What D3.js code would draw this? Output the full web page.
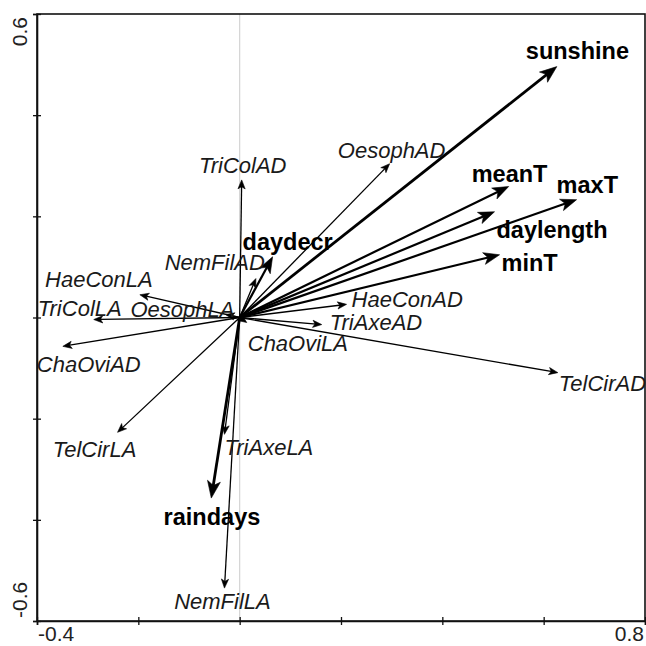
<!DOCTYPE html>
<html>
<head>
<meta charset="utf-8">
<script src="https://cdn.jsdelivr.net/npm/d3@7"></script>
<style>
  html, body { margin: 0; padding: 0; background: #fff; }
  svg { display: block; }
</style>
</head>
<body>
<svg id="chart" width="646" height="646"></svg>
<script>
// ---- data ----
const envNames = ["sunshine", "meanT", "maxT", "daylength", "minT", "daydecr", "raindays"];
const envX = [0.626, 0.531, 0.665, 0.503, 0.513, 0.065, -0.056];
const envY = [0.496, 0.259, 0.233, 0.209, 0.124, 0.120, -0.357];

const spNames = ["TriColAD", "OesophAD", "NemFilAD", "HaeConLA", "TriColLA", "OesophLA", "ChaOviAD",
                 "TelCirLA", "TriAxeLA", "NemFilLA", "HaeConAD", "TriAxeAD", "TelCirAD", "ChaOviLA"];
const spX = [0.004, 0.296, 0.032, -0.197, -0.288, -0.028, -0.349, -0.241, -0.030, -0.030, 0.211, 0.162, 0.628, 0.014];
const spY = [0.272, 0.304, 0.077, 0.045, -0.004, 0.006, -0.057, -0.227, -0.231, -0.535, 0.026, -0.014, -0.109, -0.010];

const xTicks = [-0.4, -0.2, 0, 0.2, 0.4, 0.6, 0.8];
const yTicks = [-0.6, -0.4, -0.2, 0, 0.2, 0.4, 0.6];
const xTickLabels = ["-0.4", "0.8"];
const yTickLabels = ["-0.6", "0.6"];

// ---- layout (label offsets from arrow tips, px) ----
const labelPos = {
  sunshine: [-31, -8, "start"], meanT: [-37, -4, "start"], maxT: [-20, -7, "start"],
  daylength: [2, 26, "start"], minT: [2, 16, "start"], daydecr: [-30, -7, "start"],
  raindays: [49, 27, "end"],
  TriColAD: [1, -7, "middle"], OesophAD: [2, -6, "middle"], NemFilAD: [9, -9, "end"],
  HaeConLA: [-41, -8, "middle"], TriColLA: [-56, -4, "start"], OesophLA: [9, 3, "end"],
  ChaOviAD: [-26, 26, "start"], TelCirLA: [-23, 25, "middle"], TriAxeLA: [0, 21, "start"],
  NemFilLA: [-2, 21, "middle"], HaeConAD: [5, 3, "start"], TriAxeAD: [8, 5, "start"],
  TelCirAD: [1, 18, "start"], ChaOviLA: [1, 28, "start"]
};

const svg = d3.select("#chart");
const x = d3.scaleLinear().domain([-0.4, 0.8]).range([37, 645]);
const y = d3.scaleLinear().domain([-0.6, 0.6]).range([621, 14]);

// zero line
svg.append("line")
  .attr("x1", x(0)).attr("x2", x(0)).attr("y1", y(0.6)).attr("y2", y(-0.6))
  .attr("stroke", "#d4d4d4").attr("stroke-width", 1.2);

// frame
svg.append("rect")
  .attr("x", x(-0.4)).attr("y", y(0.6))
  .attr("width", x(0.8) - x(-0.4)).attr("height", y(-0.6) - y(0.6))
  .attr("fill", "none").attr("stroke", "#111").attr("stroke-width", 1.6);

// axes
const gx = svg.append("g").attr("transform", `translate(0,${y(-0.6)})`)
  .call(d3.axisBottom(x).tickValues(xTicks).tickSize(4).tickFormat(""));
gx.select(".domain").attr("stroke", "#111").attr("stroke-width", 1.6);
gx.selectAll(".tick line").attr("y1", -4).attr("y2", 4).attr("stroke", "#111").attr("stroke-width", 1.3);

const gy = svg.append("g").attr("transform", `translate(${x(-0.4)},0)`)
  .call(d3.axisLeft(y).tickValues(yTicks).tickSize(4).tickFormat(""));
gy.select(".domain").attr("stroke", "#111").attr("stroke-width", 1.6);
gy.selectAll(".tick line").attr("x1", -4).attr("x2", 4).attr("stroke", "#111").attr("stroke-width", 1.3);

// tick labels
const tickFont = "'Liberation Sans', Arial, sans-serif";
svg.append("text").text(xTickLabels[0]).attr("x", x(-0.4) + 1).attr("y", 641)
  .attr("text-anchor", "start").attr("font-family", tickFont).attr("font-size", 21).attr("fill", "#222");
svg.append("text").text(xTickLabels[1]).attr("x", x(0.8) - 1).attr("y", 641)
  .attr("text-anchor", "end").attr("font-family", tickFont).attr("font-size", 21).attr("fill", "#222");
svg.append("text").text(yTickLabels[0])
  .attr("transform", `translate(27,${y(-0.6) - 3}) rotate(-90)`)
  .attr("text-anchor", "start").attr("font-family", tickFont).attr("font-size", 21).attr("fill", "#222");
svg.append("text").text(yTickLabels[1])
  .attr("transform", `translate(27,${y(0.6) + 3}) rotate(-90)`)
  .attr("text-anchor", "end").attr("font-family", tickFont).attr("font-size", 21).attr("fill", "#222");

// arrows
function arrow(g, vx, vy, opts) {
  const x0 = x(0), y0 = y(0), x1 = x(vx), y1 = y(vy);
  const dx = x1 - x0, dy = y1 - y0, len = Math.hypot(dx, dy) || 1;
  const ux = dx / len, uy = dy / len, nx = -uy, ny = ux;
  const L = Math.min(opts.L, len), W = opts.W;
  const bx = x1 - ux * L, by = y1 - uy * L;
  g.append("line").attr("x1", x0).attr("y1", y0)
    .attr("x2", x1 - ux * L * 0.6).attr("y2", y1 - uy * L * 0.6)
    .attr("stroke", "#000").attr("stroke-width", opts.sw);
  g.append("path")
    .attr("d", `M${x1},${y1}L${bx + nx * W},${by + ny * W}L${x1 - ux * L * 0.75},${y1 - uy * L * 0.75}L${bx - nx * W},${by - ny * W}Z`)
    .attr("fill", "#000").attr("stroke", "#000").attr("stroke-width", 0.6);
}

const gs = svg.append("g");
spNames.forEach((n, i) => arrow(gs, spX[i], spY[i], {L: 9, W: 3.6, sw: 1.3}));
const ge = svg.append("g");
envNames.forEach((n, i) => {
  const heavy = (n === "sunshine" || n === "raindays");
  arrow(ge, envX[i], envY[i], {L: heavy ? 17 : 16, W: heavy ? 6.5 : 6, sw: heavy ? 2.8 : 2.2});
});

// labels
const labFont = "'Liberation Sans', Arial, Helvetica, sans-serif";
spNames.forEach((n, i) => {
  const p = labelPos[n];
  svg.append("text").text(n)
    .attr("x", x(spX[i]) + p[0]).attr("y", y(spY[i]) + p[1])
    .attr("text-anchor", p[2])
    .attr("font-family", labFont).attr("font-style", "italic")
    .attr("font-size", 22).attr("fill", "#1a1a1a");
});
envNames.forEach((n, i) => {
  const p = labelPos[n];
  svg.append("text").text(n)
    .attr("x", x(envX[i]) + p[0]).attr("y", y(envY[i]) + p[1])
    .attr("text-anchor", p[2])
    .attr("font-family", labFont).attr("font-weight", "bold")
    .attr("font-size", 23.5).attr("fill", "#000");
});
</script>
</body>
</html>
